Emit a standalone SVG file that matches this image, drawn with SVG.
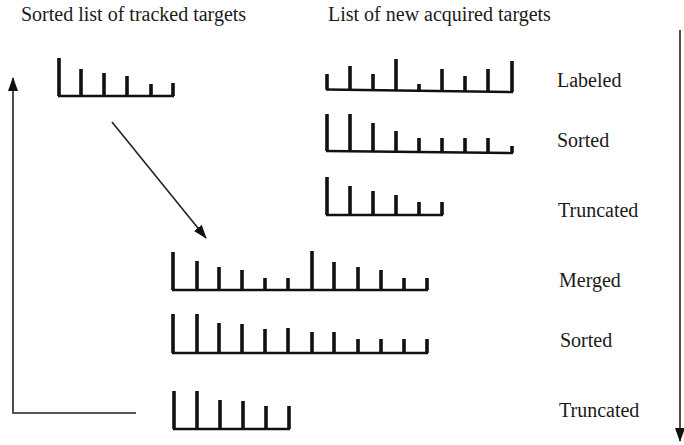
<svg xmlns="http://www.w3.org/2000/svg" width="684" height="445" viewBox="0 0 684 445">
<defs>
<marker id="ah" markerUnits="userSpaceOnUse" markerWidth="14" markerHeight="10" refX="13" refY="5" orient="auto">
<path d="M0,0 L14,5 L0,10 Z" fill="#111"/>
</marker>
<style>
.bar{stroke:#111;stroke-width:3.6;fill:none}
.base{stroke:#111;stroke-width:2.5;fill:none}
.conn{stroke:#222;stroke-width:1.6;fill:none}
.lbl{font-family:'Liberation Serif','Times New Roman',serif;font-size:20px;fill:#1a1a1a}
</style>
</defs>
<rect width="684" height="445" fill="#fff"/>
<g id="titles">
<text class="lbl" x="21" y="21">Sorted list of tracked targets</text>
<text class="lbl" x="328" y="21">List of new acquired targets</text>
</g>
<g id="tracked">
<path class="base" d="M58,96 H174"/>
<path class="bar" d="M59,96V58 M81,96V69 M104,96V73 M127,96V76 M151,96V84 M173,96V83"/>
</g>
<g id="labeled">
<path class="base" d="M326,89.5 L513,92"/>
<path class="bar" d="M327,89.5V74 M350,90V66 M373,90V74 M396,90.5V59 M419,91V84 M442,91V69 M465,91.5V76 M488,91.5V69 M512,92V61"/>
<text class="lbl" x="557" y="87">Labeled</text>
</g>
<g id="sorted1">
<path class="base" d="M326,151 L513,153"/>
<path class="bar" d="M327,151V114 M350,151V114 M373,151.5V123 M396,152V131 M419,152V138 M442,152V138 M465,152.5V138 M488,152.5V138 M512,153V146"/>
<text class="lbl" x="557" y="147">Sorted</text>
</g>
<g id="truncated1">
<path class="base" d="M326,215 H443"/>
<path class="bar" d="M327,215V177 M350,215V186 M373,215V191 M396,215V195 M419,215V202 M442,215V202"/>
<text class="lbl" x="558" y="217">Truncated</text>
</g>
<g id="merged">
<path class="base" d="M172,290 H428"/>
<path class="bar" d="M173,290V252 M197,290V261 M219,290V267 M242,290V270 M265,290V278 M288,290V278 M312,290V251 M334,290V262 M358,290V267 M381,290V270 M404,290V278 M427,290V278"/>
<text class="lbl" x="559" y="287">Merged</text>
</g>
<g id="sorted2">
<path class="base" d="M172,353 H428"/>
<path class="bar" d="M173,353V314 M197,353V314 M219,353V323 M242,353V324 M265,353V329 M288,353V328 M312,353V332 M334,353V332 M358,353V339 M381,353V339 M404,353V339 M427,353V339"/>
<text class="lbl" x="560" y="347">Sorted</text>
</g>
<g id="truncated2">
<path class="base" d="M173,429 H290"/>
<path class="bar" d="M174,429V391 M197,429V391 M220,429V400 M243,429V401 M266,429V406 M289,429V406"/>
<text class="lbl" x="559" y="417">Truncated</text>
</g>
<g id="connectors">
<path class="conn" d="M112,122 L206,238" marker-end="url(#ah)"/>
<path class="conn" d="M136,413 H13 V78" marker-end="url(#ah)"/>
<path class="conn" d="M680,30 V441" marker-end="url(#ah)"/>
</g>
</svg>
